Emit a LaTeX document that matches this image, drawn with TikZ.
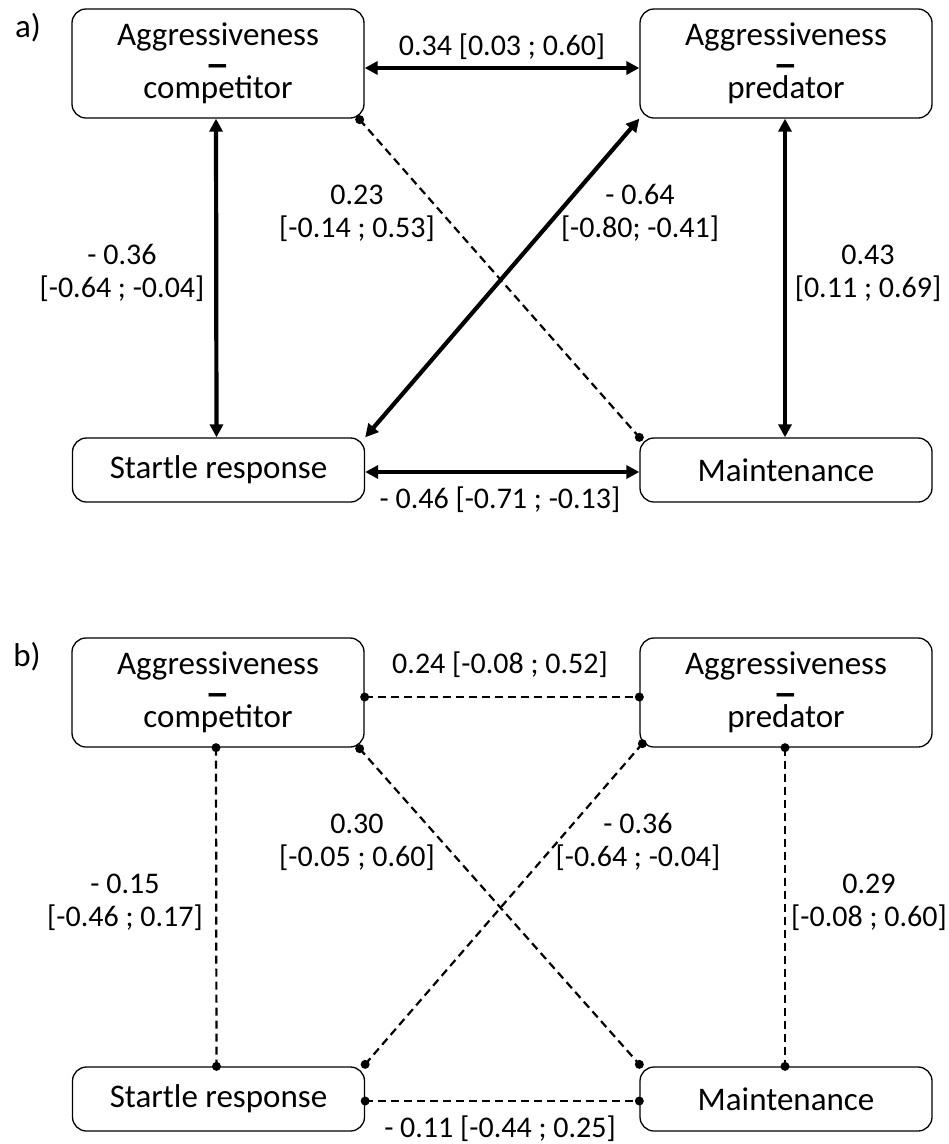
\documentclass[tikz,border=0pt]{standalone}
\usepackage{fontspec}
\setmainfont{Carlito}
\usetikzlibrary{arrows.meta}
\newcommand{\sep}{\smash{\raisebox{-5pt}{\scalebox{1.5}[1.2]{\textbf{–}}}}}
\begin{document}
\begin{tikzpicture}[x=1pt,y=-1pt,
  box/.style={draw,line width=1.3pt,rounded corners=14pt,minimum width=292pt,inner sep=0pt,align=center,font=\fontsize{33}{26.5}\selectfont},
  bigbox/.style={box,minimum height=109pt},
  smallbox/.style={box,minimum height=64pt},
  lab/.style={align=center,inner sep=0pt,font=\fontsize{30}{33}\selectfont},
  panel/.style={inner sep=0pt,font=\fontsize{33}{36}\selectfont},
  biarrow/.style={line width=4.2pt,{Triangle[length=13pt,width=13pt]}-{Triangle[length=13pt,width=13pt]}},
  dashline/.style={line width=2.2pt,dash pattern=on 8pt off 5pt},
  dotc/.style={fill=black}]
\useasboundingbox (0,0) rectangle (949,1144);

% ---------------- panel a ----------------
\node[panel] (pa) at (28,28) {a)};
\node[bigbox] (c1) at (218,63.5) {Aggressiveness\\\sep\\competitor};
\node[bigbox] (p1) at (786,63.5) {Aggressiveness\\\sep\\predator};
\node[smallbox] (s1) at (218.5,470) {Startle response};
\node[smallbox] (m1) at (786,470) {Maintenance};

\draw[biarrow] ([yshift=-4.5pt]c1.east) -- ([yshift=-4.5pt]p1.west);
\draw[biarrow] ([xshift=-2pt]c1.south) -- ([xshift=-2pt]s1.north);
\draw[biarrow] ([xshift=-1pt]p1.south) -- ([xshift=-1pt]m1.north);
\draw[biarrow] ([yshift=-2pt]s1.east) -- ([yshift=-2pt]m1.west);
\draw[biarrow] (s1.north east) -- (p1.south west);

\coordinate (a1) at ([xshift=-5pt,yshift=-1pt]c1.south east);
\coordinate (a2) at (m1.north west);
\draw[dashline] (a1) -- (a2);
\fill[dotc] (a1) circle (4.5pt);
\fill[dotc] (a2) circle (4.5pt);

\node[lab] (la1) at (502,47) {0.34 [0.03 ; 0.60]};
\node[lab] (la2) at (500,500) {- 0.46 [-0.71 ; -0.13]};
\node[lab] (la3) at (357,213) {0.23\\{}[-0.14 ; 0.53]};
\node[lab] (la4) at (640,213) {- 0.64\\{}[-0.80; -0.41]};
\node[lab] (la5) at (122,273) {- 0.36\\{}[-0.64 ; -0.04]};
\node[lab] (la6) at (868,273) {0.43\\{}[0.11 ; 0.69]};

% ---------------- panel b ----------------
\node[panel] (pb) at (27,657) {b)};
\node[bigbox] (c2) at (218,692.5) {Aggressiveness\\\sep\\competitor};
\node[bigbox] (p2) at (786,692.5) {Aggressiveness\\\sep\\predator};
\node[smallbox] (s2) at (218.5,1099) {Startle response};
\node[smallbox] (m2) at (786,1099) {Maintenance};

\coordinate (b1) at ([yshift=-4.5pt]c2.east);
\coordinate (b2) at ([yshift=-4.5pt]p2.west);
\coordinate (b3) at ([xshift=-2pt]c2.south);
\coordinate (b4) at ([xshift=-2pt]s2.north);
\coordinate (b5) at ([xshift=-1pt]p2.south);
\coordinate (b6) at ([xshift=-1pt]m2.north);
\coordinate (b7) at ([yshift=-2pt]s2.east);
\coordinate (b8) at ([yshift=-2pt]m2.west);
\coordinate (b9) at ([yshift=2pt]s2.north east);
\coordinate (b10) at ([xshift=3pt,yshift=4pt]p2.south west);
\coordinate (b11) at ([xshift=-5pt,yshift=-1pt]c2.south east);
\coordinate (b12) at ([yshift=2pt]m2.north west);

\draw[dashline] (b1) -- (b2);
\draw[dashline] (b3) -- (b4);
\draw[dashline] (b5) -- (b6);
\draw[dashline] (b7) -- (b8);
\draw[dashline] (b9) -- (b10);
\draw[dashline] (b11) -- (b12);
\foreach \d in {b1,b2,b3,b4,b5,b6,b7,b8,b9,b10,b11,b12}
  \fill[dotc] (\d) circle (4.5pt);

\node[lab] (lb1) at (500,665) {0.24 [-0.08 ; 0.52]};
\node[lab] (lb2) at (500,1129) {- 0.11 [-0.44 ; 0.25]};
\node[lab] (lb3) at (357,842) {0.30\\{}[-0.05 ; 0.60]};
\node[lab] (lb4) at (638,842) {- 0.36\\{}[-0.64 ; -0.04]};
\node[lab] (lb5) at (125,902) {- 0.15\\{}[-0.46 ; 0.17]};
\node[lab] (lb6) at (869,902) {0.29\\{}[-0.08 ; 0.60]};
\end{tikzpicture}
\end{document}
